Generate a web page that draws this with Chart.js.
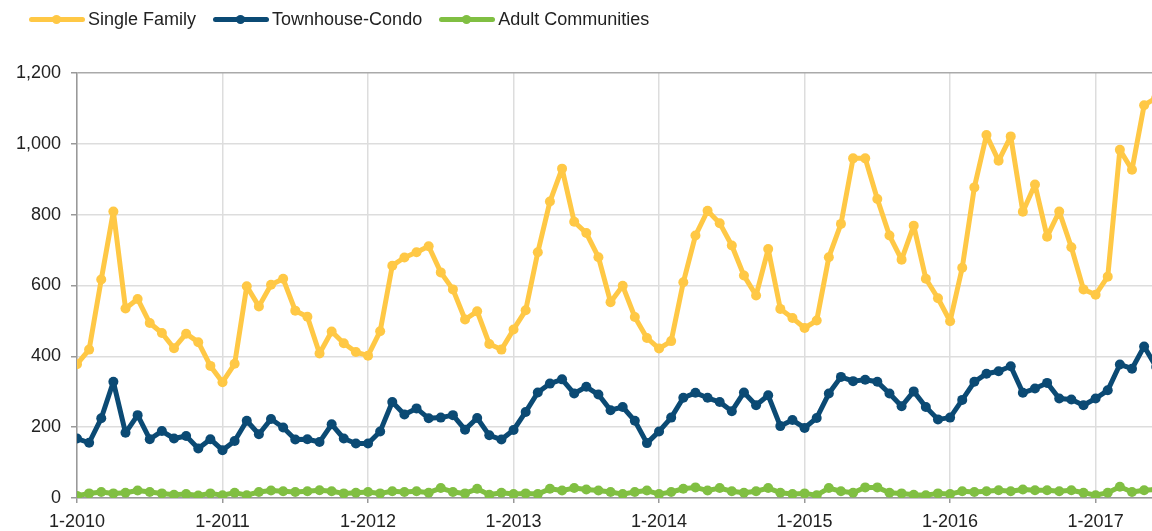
<!DOCTYPE html>
<html>
<head>
<meta charset="utf-8">
<script src="https://cdn.jsdelivr.net/npm/chart.js@4"></script>
<style>
  html, body { margin: 0; padding: 0; background: #fff; }
  #wrap { position: relative; width: 1152px; height: 531px; }
  #legend { position: absolute; left: 0; top: 9px; display: flex; font-family: "Liberation Sans", Arial, sans-serif; font-size: 18px; color: #222; }
  .item { display: flex; align-items: center; margin-right: 17px; }
  .mark { position: relative; width: 56px; height: 5px; border-radius: 3px; margin: 0 3px 0 29px; }
  .item + .item .mark { margin-left: 0; }
  .mark i { position: absolute; left: 23px; top: -2px; width: 9px; height: 9px; border-radius: 50%; background: inherit; }
</style>
</head>
<body>
<div id="wrap">
  <div id="legend"></div>
  <canvas id="chart" width="1152" height="531"></canvas>
</div>
<script>
// Data (monthly, starting 1-2010)
const seriesNames = ['Single Family', 'Townhouse-Condo', 'Adult Communities'];
const seriesColors = ['#ffc845', '#0b4a74', '#80bf42'];
const startYear = 2010;

const singleFamily = [
  378, 419, 617, 809, 535, 562, 494, 466, 423, 464, 440, 373,
  327, 379, 598, 541, 602, 619, 529, 512, 408, 470, 437, 412,
  402, 471, 656, 679, 694, 711, 637, 589, 504, 527, 435, 419,
  476, 530, 694, 837, 930, 780, 748, 680, 553, 599, 511, 452,
  422, 443, 609, 741, 811, 776, 713, 628, 572, 703, 534, 508,
  480, 501, 680, 774, 959, 959, 844, 741, 673, 769, 619, 564,
  499, 650, 877, 1025, 952, 1021, 808, 885, 738, 809, 708, 589,
  574, 625, 983, 927, 1109, 1130
];
const townhouseCondo = [
  168, 156, 225, 328, 184, 234, 166, 189, 168, 175, 140, 166,
  135, 161, 218, 180, 223, 199, 165, 166, 158, 208, 168, 154,
  154, 188, 271, 236, 253, 225, 227, 234, 193, 226, 177, 165,
  192, 243, 298, 323, 335, 295, 314, 292, 248, 257, 218, 155,
  188, 227, 283, 297, 283, 271, 245, 298, 262, 290, 203, 220,
  198, 226, 295, 342, 330, 334, 328, 295, 259, 301, 257, 222,
  227, 277, 328, 351, 358, 372, 297, 309, 325, 281, 278, 262,
  281, 304, 377, 365, 428, 370
];
const adultCommunities = [
  6, 13, 17, 13, 15, 21, 17, 13, 9, 11, 7, 13,
  8, 15, 8, 17, 21, 19, 17, 19, 22, 19, 13, 15,
  17, 13, 19, 17, 19, 15, 28, 17, 13, 26, 9, 15,
  11, 13, 11, 26, 21, 28, 24, 21, 17, 11, 17, 21,
  11, 17, 26, 30, 21, 28, 19, 15, 19, 28, 15, 11,
  13, 8, 28, 19, 15, 30, 30, 15, 13, 9, 8, 13,
  11, 19, 17, 19, 22, 19, 24, 22, 22, 19, 22, 15,
  8, 15, 32, 17, 22, 24
];
const xTicks = [0, 12, 24, 36, 48, 60, 72, 84];
const yTicks = [0, 200, 400, 600, 800, 1000, 1200];

// Legend
const legendEl = document.getElementById('legend');
seriesNames.forEach((name, i) => {
  const item = document.createElement('div');
  item.className = 'item';
  item.innerHTML = '<span class="mark" style="background:' + seriesColors[i] + '"><i></i></span><span>' + name + '</span>';
  legendEl.appendChild(item);
});

function toPoints(values) {
  return values.map((v, i) => ({ x: i, y: v }));
}

const allSeries = [singleFamily, townhouseCondo, adultCommunities];

new Chart(document.getElementById('chart'), {
  type: 'line',
  data: {
    datasets: allSeries.map((values, i) => ({
      label: seriesNames[i],
      data: toPoints(values),
      borderColor: seriesColors[i],
      backgroundColor: seriesColors[i],
      borderWidth: 5,
      borderJoinStyle: 'round',
      borderCapStyle: 'round',
      pointRadius: 5,
      pointBorderWidth: 0,
      tension: 0
    }))
  },
  options: {
    responsive: false,
    animation: false,
    layout: { autoPadding: false, padding: { top: 73, right: 0, left: 0, bottom: 0 } },
    plugins: {
      legend: { display: false },
      tooltip: { enabled: false }
    },
    scales: {
      x: {
        type: 'linear',
        min: 0,
        max: 88.65,
        afterBuildTicks: scale => {
          scale.ticks = xTicks.map(v => ({ value: v }));
        },
        afterFit: scale => { scale.height = 33; },
        ticks: {
          color: '#222',
          font: { family: 'Liberation Sans', size: 18 },
          padding: 8,
          maxRotation: 0,
          autoSkip: false,
          callback: v => '1-' + (startYear + v / 12)
        },
        grid: { color: '#dddddd', lineWidth: 1.5, tickLength: 5, tickColor: '#999' },
        border: { color: '#999', width: 1.5 }
      },
      y: {
        min: 0,
        max: 1200,
        afterBuildTicks: scale => {
          scale.ticks = yTicks.map(v => ({ value: v }));
        },
        afterFit: scale => { scale.width = 77; },
        ticks: {
          color: '#222',
          font: { family: 'Liberation Sans', size: 18 },
          padding: 10,
          callback: v => v.toLocaleString('en-US')
        },
        grid: {
          color: ctx => ctx.tick && ctx.tick.value === 1200 ? '#aaaaaa' : '#dddddd',
          lineWidth: 1.5,
          tickLength: 6,
          tickColor: '#999'
        },
        border: { color: '#999', width: 1.5 }
      }
    }
  }
});
</script>
</body>
</html>
